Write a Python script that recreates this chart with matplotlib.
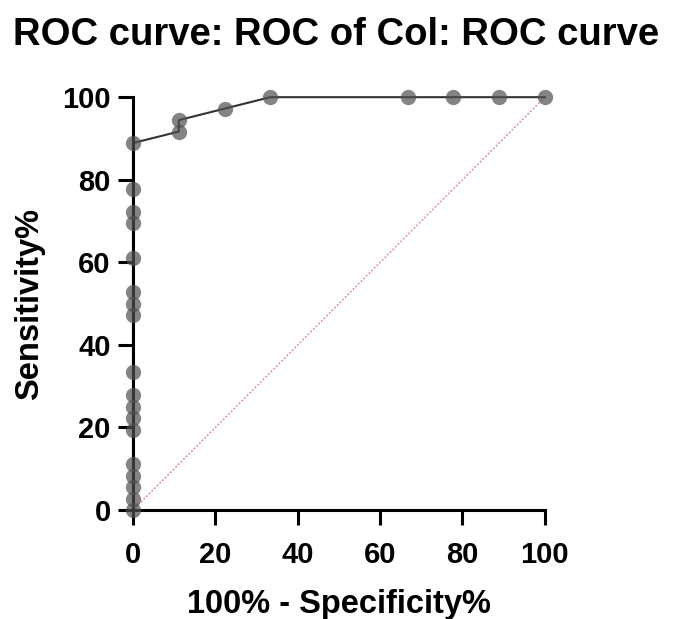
import matplotlib
matplotlib.use("Agg")
import matplotlib.pyplot as plt

plt.rcParams['font.family'] = ['Liberation Sans', 'DejaVu Sans']

# ROC points (100% - Specificity%, Sensitivity%)
fpr = [0, 0, 0, 0, 0, 0, 0, 0, 0, 0, 0, 0, 0, 0, 0, 0, 0, 0,
       11.11, 11.11, 22.22, 33.33, 66.67, 77.78, 88.89, 100]
sens = [0, 2.78, 5.56, 8.33, 11.11, 19.44, 22.22, 25.0, 27.78, 33.33,
        47.22, 50.0, 52.78, 61.11, 69.44, 72.22, 77.78, 88.89,
        91.67, 94.44, 97.22, 100, 100, 100, 100, 100]
ref_x = [0, 100]
ref_y = [0, 100]
xticks = [0, 20, 40, 60, 80, 100]
yticks = [0, 20, 40, 60, 80, 100]

fig = plt.figure(figsize=(6.73, 6.19), dpi=100)
ax = fig.add_axes([0.1976, 0.176, 0.612, 0.667])

ax.plot(ref_x, ref_y, color='#d97a7a', lw=0.9, ls=(0, (1.5, 1.5)), zorder=1)
ax.plot(fpr, sens, color='#333333', lw=1.5, zorder=2, clip_on=False)
ax.plot(fpr, sens, ls='none', marker='o', ms=11, mfc='#505050', mec='none',
        alpha=0.7, zorder=3, clip_on=False)

ax.set_xlim(0, 100)
ax.set_ylim(0, 100)
ax.set_xticks(xticks)
ax.set_yticks(yticks)
for s in ['top', 'right']:
    ax.spines[s].set_visible(False)
for s in ['left', 'bottom']:
    ax.spines[s].set_linewidth(2.2)
ax.tick_params(width=2.2, length=11, labelsize=21, pad=5)
ax.tick_params(axis='x', pad=11)
for lab in ax.get_xticklabels() + ax.get_yticklabels():
    lab.set_fontweight('bold')

ax.set_xlabel('100% - Specificity%', fontsize=23.5, fontweight='bold', labelpad=15)
ax.set_ylabel('Sensitivity%', fontsize=23.5, fontweight='bold', labelpad=12)
fig.text(0.5, 0.943, 'ROC curve: ROC of Col: ROC curve', fontsize=27.5,
         fontweight='bold', ha='center', va='center')

fig.savefig('out.png', dpi=100)
